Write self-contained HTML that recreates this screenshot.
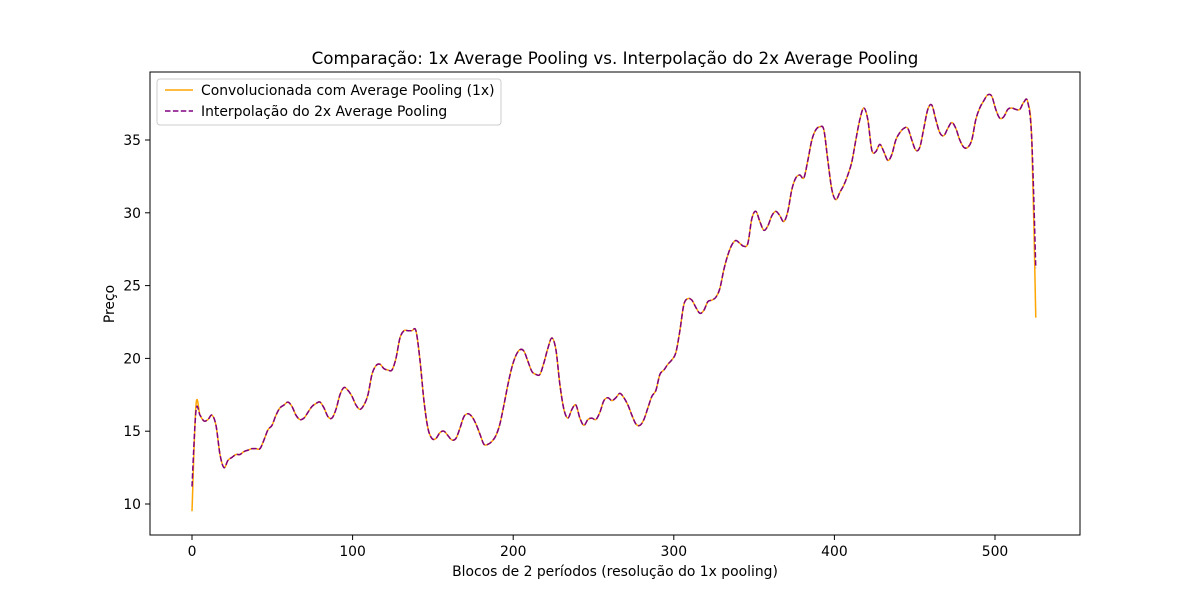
<!DOCTYPE html>
<html><head><meta charset="utf-8"><style>
body{margin:0;background:#fff;}
svg text{font-family:"DejaVu Sans","Liberation Sans",sans-serif;fill:#000;}
</style></head><body>
<svg id="chart" width="1200" height="600" xmlns="http://www.w3.org/2000/svg">
<rect width="1200" height="600" fill="#fff"/>
<text x="615" y="64" font-size="16.7" text-anchor="middle">Comparação: 1x Average Pooling vs. Interpolação do 2x Average Pooling</text>
<g id="axes"></g>
<g id="series"></g>
<rect x="150" y="72" width="930" height="463" fill="none" stroke="#000" stroke-width="1"/>
<text x="615" y="576" font-size="13.9" text-anchor="middle">Blocos de 2 períodos (resolução do 1x pooling)</text>
<text x="114" y="304" font-size="13.9" text-anchor="middle" transform="rotate(-90 114 304)">Preço</text>
<g>
<rect x="157" y="79" width="344" height="46" rx="3" fill="#fff" fill-opacity="0.8" stroke="#ccc"/>
<line x1="165" y1="90" x2="193" y2="90" stroke="orange" stroke-width="1.5"/>
<text x="201" y="95" font-size="13.9">Convolucionada com Average Pooling (1x)</text>
<line x1="165" y1="111" x2="193" y2="111" stroke="purple" stroke-width="1.5" stroke-dasharray="5.5,2.4"/>
<text x="201" y="116" font-size="13.9">Interpolação do 2x Average Pooling</text>
</g>
</svg>
<script>
const xTicks = [0,100,200,300,400,500];
const yTicks = [10,15,20,25,30,35];
const xStep = 2.49;
const convValues = [9.5,16.8,16.1,15.7,15.8,16.1,15.4,13.4,12.5,13.0,13.2,13.4,13.4,13.6,13.7,13.8,13.8,13.8,14.4,15.1,15.4,16.1,16.6,16.8,17.0,16.7,16.1,15.8,15.9,16.3,16.7,16.9,17.0,16.6,16.0,15.9,16.5,17.5,18.0,17.8,17.4,16.8,16.5,16.8,17.5,18.9,19.5,19.6,19.3,19.2,19.2,20.0,21.4,21.9,21.9,21.9,21.9,19.9,17.1,15.2,14.5,14.5,14.9,15.0,14.7,14.4,14.5,15.2,16.0,16.2,16.0,15.5,14.8,14.1,14.1,14.3,14.7,15.5,16.8,18.2,19.4,20.2,20.6,20.5,19.8,19.1,18.9,18.9,19.7,20.7,21.4,20.6,18.2,16.5,15.9,16.5,16.8,15.9,15.4,15.8,15.9,15.8,16.3,17.1,17.3,17.1,17.3,17.6,17.3,16.8,16.1,15.5,15.4,15.8,16.6,17.4,17.8,18.9,19.2,19.6,19.9,20.4,21.9,23.7,24.1,24.0,23.5,23.1,23.3,23.9,24.0,24.2,24.8,26.1,27.1,27.8,28.1,27.9,27.7,27.9,29.6,30.1,29.4,28.8,29.1,29.8,30.1,29.8,29.4,30.1,31.6,32.4,32.6,32.4,33.6,35.0,35.7,35.9,35.7,33.6,31.6,30.9,31.4,31.9,32.6,33.5,35.0,36.4,37.2,36.4,34.3,34.2,34.7,34.2,33.6,34.0,35.0,35.5,35.8,35.8,35.0,34.3,34.5,35.8,37.1,37.4,36.4,35.5,35.3,35.8,36.2,35.8,35.0,34.5,34.5,35.0,36.4,37.2,37.7,38.1,38.0,37.1,36.5,36.6,37.1,37.2,37.1,37.1,37.6,37.6,35.0,22.8];
const interpStart = [11.2,16.4];
const interpEnd = [26.2];
const interpValues = convValues.slice();
interpValues[0] = interpStart[0]; interpValues[1] = interpStart[1];
interpValues[interpValues.length-1] = interpEnd[0];

const X0=192, XS=803/500, Y0=504, YS=364/25;
function xs(v){return X0+v*XS;}
function ys(v){return Y0-(v-10)*YS;}
const NS='http://www.w3.org/2000/svg';
const axes=document.getElementById('axes');
function mk(tag,attrs,parent){const e=document.createElementNS(NS,tag);for(const k in attrs)e.setAttribute(k,attrs[k]);parent.appendChild(e);return e;}
xTicks.forEach(t=>{
  const l=mk('line',{x1:xs(t),x2:xs(t),y1:535,y2:540,stroke:'#000'},axes);
  
  
  const tx=mk('text',{x:xs(t),y:556,'font-size':13.9,'text-anchor':'middle'},axes);
  tx.textContent=t;
  
  
});
yTicks.forEach(t=>{
  const l=mk('line',{x1:145,x2:150,y1:ys(t),y2:ys(t),stroke:'#000'},axes);
  
  
  const tx=mk('text',{x:141,y:ys(t)+5,'font-size':13.9,'text-anchor':'end'},axes);
  tx.textContent=t;
  
  
});
function pathFor(vals){
  const p=vals.map((v,i)=>[xs(i*xStep),ys(v)]);
  let d='M'+p[0][0].toFixed(2)+','+p[0][1].toFixed(2);
  for(let i=0;i<p.length-1;i++){
    const a=p[Math.max(0,i-1)],b=p[i],c=p[i+1],e=p[Math.min(p.length-1,i+2)];
    const c1=[b[0]+(c[0]-a[0])/6,b[1]+(c[1]-a[1])/6];
    const c2=[c[0]-(e[0]-b[0])/6,c[1]-(e[1]-b[1])/6];
    d+=' C'+c1[0].toFixed(2)+','+c1[1].toFixed(2)+' '+c2[0].toFixed(2)+','+c2[1].toFixed(2)+' '+c[0].toFixed(2)+','+c[1].toFixed(2);
  }
  return d;
}
const sg=document.getElementById('series');
const conv=mk('path',{d:pathFor(convValues),fill:'none',stroke:'orange','stroke-width':1.5},sg);


const interp=mk('path',{d:pathFor(interpValues),fill:'none',stroke:'purple','stroke-width':1.5,'stroke-dasharray':'5.5,2.4'},sg);


</script>
</body></html>
